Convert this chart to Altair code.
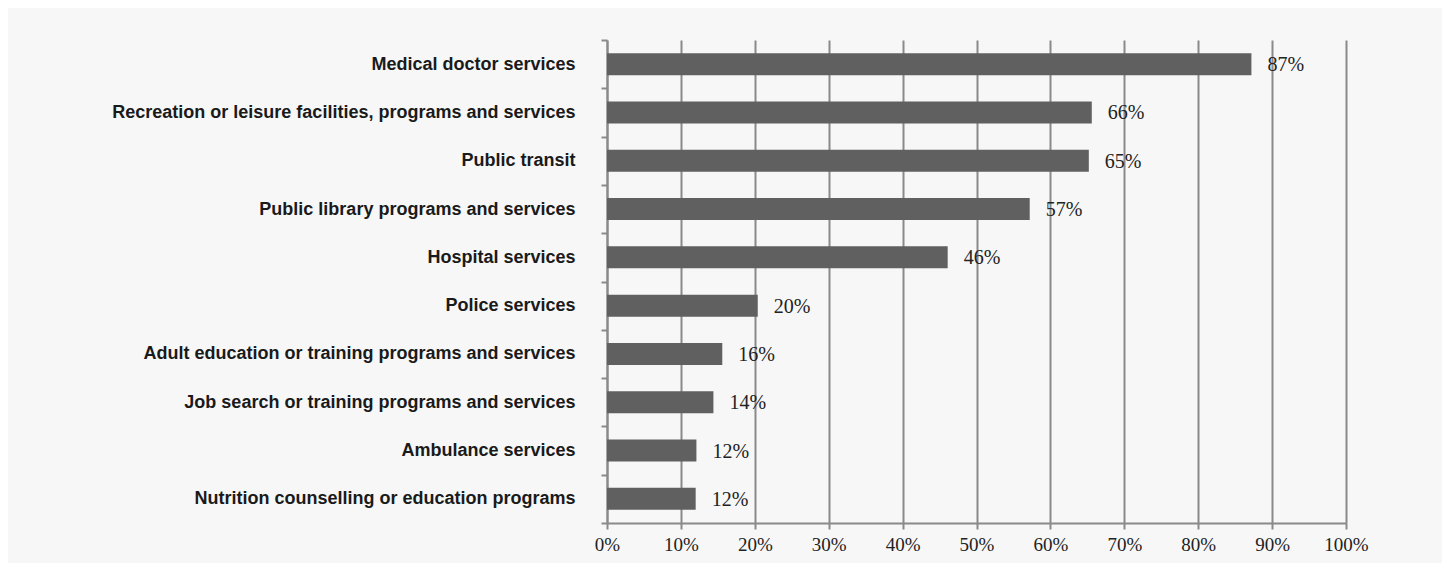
import altair as alt
import pandas as pd

categories = [
    "Medical doctor services",
    "Recreation or leisure facilities, programs and services",
    "Public transit",
    "Public library programs and services",
    "Hospital services",
    "Police services",
    "Adult education or training programs and services",
    "Job search or training programs and services",
    "Ambulance services",
    "Nutrition counselling or education programs",
]
values = [87.2, 65.6, 65.2, 57.2, 46.1, 20.4, 15.6, 14.4, 12.1, 12.0]
labels = ["87%", "66%", "65%", "57%", "46%", "20%", "16%", "14%", "12%", "12%"]
x_ticks = [0, 10, 20, 30, 40, 50, 60, 70, 80, 90, 100]

df = pd.DataFrame({"category": categories, "value": values, "label": labels})

GRID = "#8a8a8a"
SERIF = "Liberation Serif"
SANS = "Liberation Sans Narrow, Liberation Sans, Arial"

x_enc = alt.X(
    "value:Q",
    scale=alt.Scale(domain=[0, 100], nice=False),
    axis=alt.Axis(
        values=x_ticks,
        labelExpr="datum.value + '%'",
        title=None,
        grid=True,
        gridColor=GRID,
        gridWidth=2,
        domainColor=GRID,
        domainWidth=2,
        tickColor=GRID,
        tickWidth=2,
        tickSize=6,
        labelFont=SERIF,
        labelFontSize=19,
        labelColor="#222222",
        labelPadding=6,
        labelFlush=False,
        labelOverlap=False,
    ),
)
y_enc = alt.Y(
    "category:N",
    sort=categories,
    scale=alt.Scale(paddingInner=0, paddingOuter=0),
    axis=alt.Axis(
        title=None,
        grid=False,
        tickBand="extent",
        domainColor=GRID,
        domainWidth=2,
        tickColor=GRID,
        tickWidth=2,
        tickSize=6,
        labelFont=SANS,
        labelFontWeight="bold",
        labelFontSize=18,
        labelColor="#1a1a1a",
        labelPadding=26,
        labelLimit=600,
    ),
)

bars = alt.Chart(df).mark_bar(size=22, color="#606060").encode(x=x_enc, y=y_enc)
text = alt.Chart(df).mark_text(
    align="left", baseline="middle", dx=16, dy=1, font=SERIF, fontSize=20, color="#222222"
).encode(x="value:Q", y=alt.Y("category:N", sort=categories), text="label:N")

chart = (
    alt.layer(bars, text)
    .properties(
        width=739,
        height=483,
        autosize=alt.AutoSizeParams(type="none"),
        padding={"left": 599, "top": 32, "right": 96, "bottom": 40},
    )
    .configure(background="#f7f7f7")
    .configure_view(strokeWidth=0)
)

chart.save("out.html", embed_options={"renderer": "svg", "actions": False})
